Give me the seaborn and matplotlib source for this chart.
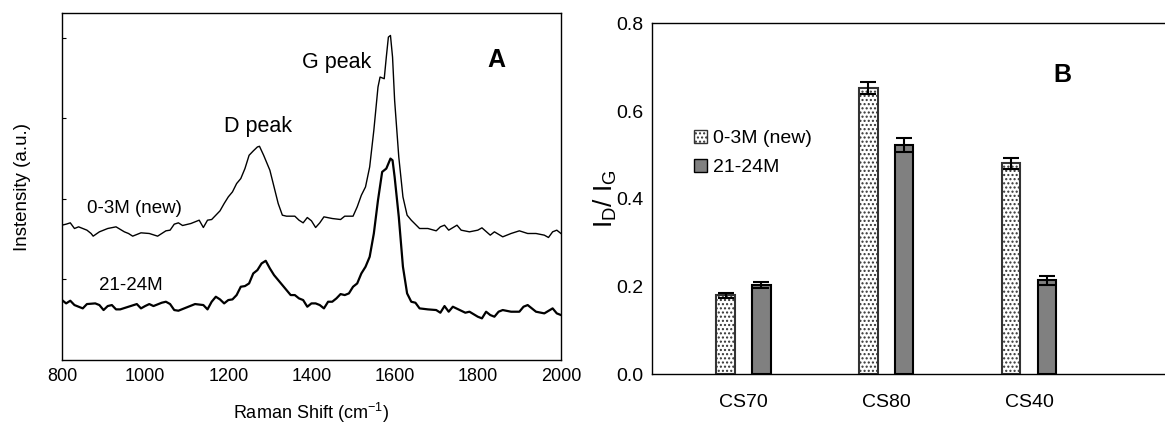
import numpy as np
import pandas as pd
import matplotlib
matplotlib.use("Agg")
import matplotlib.pyplot as plt
import seaborn as sns

# ----- data -----
# Raman spectra (arbitrary units)
shift_new = [800, 810, 820, 830, 840, 850, 860, 870, 875, 890, 910, 930, 950, 960, 970, 990,
             1010, 1030, 1050, 1060, 1070, 1080, 1090, 1110, 1130, 1140, 1150, 1160, 1170, 1180,
             1190, 1200, 1210, 1220, 1230, 1240, 1250, 1260, 1270, 1275, 1285, 1300, 1320, 1330,
             1340, 1360, 1370, 1380, 1390, 1400, 1410, 1420, 1430, 1450, 1470, 1480, 1500, 1510,
             1520, 1530, 1540, 1550, 1560, 1565, 1575, 1580, 1585, 1590, 1595, 1600, 1610, 1620,
             1630, 1640, 1660, 1680, 1700, 1710, 1720, 1730, 1750, 1760, 1780, 1800, 1810, 1830,
             1840, 1860, 1880, 1900, 1920, 1940, 1960, 1970, 1980, 1990, 2000]
intensity_new = [405, 408, 412, 395, 400, 395, 390, 380, 372, 385, 395, 400, 385, 380, 372, 382,
                 380, 372, 388, 390, 408, 412, 404, 410, 420, 398, 420, 422, 435, 448,
                 470, 490, 505, 530, 545, 575, 615, 628, 640, 642, 615, 570, 470, 435,
                 432, 432, 420, 412, 428, 418, 398, 412, 430, 425, 422, 432, 432, 460,
                 495, 520, 580, 690, 820, 850, 845, 910, 970, 975, 910, 780, 610, 490,
                 435, 420, 395, 395, 388, 400, 405, 390, 405, 390, 385, 390, 397, 375,
                 385, 370, 380, 388, 380, 380, 375, 368, 385, 390, 380]

shift_old = [800, 810, 820, 830, 840, 850, 860, 880, 890, 900, 910, 920, 930, 940, 960, 980,
             990, 1000, 1010, 1020, 1040, 1050, 1060, 1070, 1080, 1100, 1120, 1140, 1150, 1160,
             1170, 1180, 1190, 1200, 1210, 1220, 1230, 1240, 1250, 1260, 1270, 1280, 1290, 1300,
             1310, 1320, 1330, 1340, 1350, 1360, 1370, 1380, 1390, 1400, 1410, 1420, 1430, 1440,
             1450, 1460, 1470, 1480, 1490, 1500, 1510, 1520, 1530, 1540, 1550, 1560, 1570, 1580,
             1585, 1590, 1595, 1600, 1610, 1620, 1630, 1640, 1650, 1660, 1680, 1700, 1710, 1720,
             1730, 1740, 1760, 1770, 1780, 1800, 1810, 1820, 1830, 1840, 1850, 1860, 1880, 1900,
             1910, 1920, 1940, 1960, 1980, 1990, 2000]
intensity_old = [180, 170, 178, 165, 160, 155, 168, 170, 165, 150, 162, 165, 152, 152, 160, 168,
                 155, 162, 168, 162, 172, 175, 168, 150, 148, 158, 168, 165, 152, 175,
                 190, 182, 170, 180, 182, 195, 220, 222, 230, 260, 270, 290, 298, 275,
                 255, 240, 225, 210, 195, 195, 185, 180, 160, 170, 170, 165, 155, 175,
                 175, 185, 198, 195, 200, 220, 230, 260, 280, 310, 380, 480, 565, 575,
                 590, 605, 600, 550, 430, 280, 200, 175, 172, 155, 152, 150, 142, 162,
                 145, 160, 148, 142, 145, 130, 125, 145, 135, 130, 145, 150, 145, 145,
                 160, 165, 145, 140, 155, 140, 135]

# I_D / I_G ratios
samples = ["CS70", "CS80", "CS40"]
ratio_new = [0.180, 0.652, 0.481]
err_new = [0.006, 0.014, 0.012]
ratio_old = [0.204, 0.522, 0.214]
err_old = [0.007, 0.016, 0.010]
ages = ["0-3M (new)", "21-24M"]

plt.rcParams.update({"font.family": ["Liberation Sans", "DejaVu Sans"],
                     "mathtext.fontset": "custom",
                     "mathtext.rm": "Liberation Sans",
                     "mathtext.it": "Liberation Sans",
                     "axes.linewidth": 1.0})

fig = plt.figure(figsize=(11.65, 4.24), dpi=100)
ax1 = fig.add_axes([0.0532, 0.151, 0.4283, 0.818])
ax2 = fig.add_axes([0.5597, 0.117, 0.4425, 0.828])

# ----- panel A: spectra -----
sns.lineplot(x=shift_new, y=intensity_new, ax=ax1, color="black", linewidth=1.0)
sns.lineplot(x=shift_old, y=intensity_old, ax=ax1, color="black", linewidth=1.6)
ax1.set_xlim(800, 2000)
ax1.set_ylim(0, 1042)
ax1.set_xticks([800, 1000, 1200, 1400, 1600, 1800, 2000])
ax1.set_yticks([242, 484, 726, 968])
ax1.set_yticklabels([])
ax1.tick_params(axis="y", direction="in", length=3)
ax1.tick_params(axis="x", direction="in", length=0, labelsize=13, pad=6)
ax1.set_xlabel("Raman Shift (cm$^{-1}$)", fontsize=13, labelpad=11)
ax1.set_ylabel("Instensity (a.u.)", fontsize=13.5, labelpad=19)
ax1.text(1377, 895, "G peak", fontsize=15.5, va="center")
ax1.text(1189, 700, "D peak", fontsize=15.5, va="center")
ax1.text(1844, 900, "A", fontsize=18, fontweight="bold", ha="center", va="center")
ax1.text(860, 455, "0-3M (new)", fontsize=13.5, va="center")
ax1.text(888, 225, "21-24M", fontsize=13.5, va="center")

# ----- panel B: bars -----
df = pd.DataFrame({"sample": samples * 2,
                   "age": [ages[0]] * 3 + [ages[1]] * 3,
                   "ratio": ratio_new + ratio_old,
                   "err": err_new + err_old})
sns.barplot(data=df, x="sample", y="ratio", hue="age", order=samples, hue_order=ages,
            palette=["white", "#808080"], width=0.5, gap=0.48, edgecolor="black",
            linewidth=1.5, ax=ax2)
bars = ax2.patches[:6]
for i, bar in enumerate(bars):
    if i < 3:
        bar.set_hatch("....")
        bar.set_edgecolor("#333333")
cx = [b.get_x() + b.get_width() / 2 for b in bars]
ax2.errorbar(cx, df["ratio"], yerr=df["err"], fmt="none", ecolor="black",
             elinewidth=1.5, capsize=6, capthick=1.5)

ax2.set_xlim(-0.64, 2.97)
ax2.set_ylim(0, 0.8)
ax2.set_yticks([0.0, 0.2, 0.4, 0.6, 0.8])
ax2.set_yticklabels(["0.0", "0.2", "0.4", "0.6", "0.8"])
ax2.tick_params(length=0, labelsize=14, pad=6)
ax2.tick_params(axis="x", pad=14)
ax2.set_xlabel("")
ax2.set_ylabel("I$_D$/ I$_G$", fontsize=19, labelpad=-2)
ax2.text(2.23, 0.682, "B", fontsize=18, fontweight="bold", ha="center", va="center")
leg = ax2.legend(loc="upper left", bbox_to_anchor=(0.081, 0.697), frameon=False,
                 fontsize=14, handlelength=0.67, handleheight=0.67, handletextpad=0.3,
                 labelspacing=0.6, borderaxespad=0, borderpad=0)
for i, h in enumerate(leg.legend_handles):
    h.set_linewidth(1.0)
    if i == 0:
        h.set_hatch("....")
        h.set_edgecolor("#333333")

fig.savefig("out.png", dpi=100)
